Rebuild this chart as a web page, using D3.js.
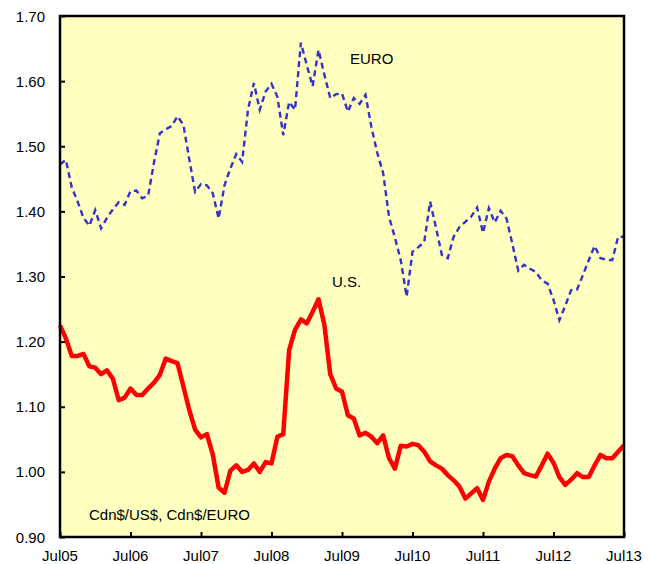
<!DOCTYPE html>
<html>
<head>
<meta charset="utf-8">
<script src="https://cdn.jsdelivr.net/npm/d3@7"></script>
<style>
  body { margin: 0; background: #fff; }
  svg { font-family: "Liberation Sans", Arial, sans-serif; }
</style>
</head>
<body>
<svg id="chart" width="648" height="564"></svg>
<script>
// monthly, Jul 2005 .. Jul 2013
var euroRate = [
  1.472, 1.479, 1.437, 1.415, 1.390, 1.378, 1.402, 1.374, 1.390, 1.403,
  1.414, 1.410, 1.431, 1.432, 1.420, 1.424, 1.475, 1.520, 1.526, 1.531,
  1.546, 1.533, 1.480, 1.430, 1.442, 1.440, 1.428, 1.389, 1.440, 1.466,
  1.488, 1.476, 1.556, 1.597, 1.556, 1.584, 1.596, 1.576, 1.517, 1.568,
  1.556, 1.659, 1.625, 1.592, 1.648, 1.610, 1.574, 1.580, 1.581, 1.553,
  1.574, 1.565, 1.579, 1.530, 1.490, 1.459, 1.392, 1.360, 1.325, 1.269,
  1.338, 1.345, 1.353, 1.415, 1.375, 1.333, 1.328, 1.361, 1.376, 1.384,
  1.392, 1.406, 1.367, 1.405, 1.383, 1.401, 1.389, 1.350, 1.309, 1.318,
  1.312, 1.307, 1.294, 1.289, 1.264, 1.233, 1.255, 1.279, 1.280, 1.302,
  1.325, 1.347, 1.328, 1.326, 1.325, 1.361, 1.361
];
var usRate = [
  1.225, 1.205, 1.178, 1.178, 1.181, 1.162, 1.160, 1.150, 1.156, 1.143,
  1.110, 1.114, 1.128, 1.118, 1.118, 1.128, 1.137, 1.149, 1.174, 1.170,
  1.167, 1.131, 1.095, 1.065, 1.053, 1.058, 1.027, 0.976, 0.968, 1.002,
  1.010, 1.000, 1.003, 1.013, 1.000, 1.015, 1.013, 1.054, 1.058, 1.187,
  1.218, 1.234, 1.228, 1.246, 1.265, 1.226, 1.150, 1.128, 1.123, 1.087,
  1.082, 1.056, 1.060, 1.054, 1.044, 1.056, 1.021, 1.005, 1.040, 1.039,
  1.043, 1.041, 1.031, 1.016, 1.010, 1.005, 0.995, 0.987, 0.977, 0.959,
  0.967, 0.975, 0.957, 0.985, 1.005, 1.021, 1.026, 1.024, 1.010, 0.998,
  0.995, 0.993, 1.010, 1.028, 1.014, 0.992, 0.980, 0.988, 0.998, 0.992,
  0.992, 1.010, 1.026, 1.021, 1.021, 1.031, 1.041
];
var xTickLabels = ["Jul05", "Jul06", "Jul07", "Jul08", "Jul09", "Jul10", "Jul11", "Jul12", "Jul13"];
var yTicks = [0.90, 1.00, 1.10, 1.20, 1.30, 1.40, 1.50, 1.60, 1.70];

var svg = d3.select("#chart");
var pLeft = 60, pRight = 624, pTop = 16, pBottom = 537;
var fs = 15;

var x = d3.scaleLinear().domain([0, euroRate.length - 1]).range([pLeft, pRight]);
var y = d3.scaleLinear().domain([0.9, 1.7]).range([pBottom, pTop]);

svg.append("rect")
  .attr("x", pLeft).attr("y", pTop)
  .attr("width", pRight - pLeft).attr("height", pBottom - pTop)
  .attr("fill", "#ffffc0");

// axes, ticks pointing inward
var yAxis = svg.append("g")
  .attr("transform", "translate(" + pLeft + ",0)")
  .call(d3.axisRight(y).tickValues(yTicks).tickSize(5).tickFormat(""));
var xAxis = svg.append("g")
  .attr("transform", "translate(0," + pBottom + ")")
  .call(d3.axisTop(x).tickValues(d3.range(0, 97, 12)).tickSize(5).tickFormat(""));
[xAxis, yAxis].forEach(function(a) {
  a.select(".domain").remove();
  a.selectAll(".tick line").attr("stroke", "#000").attr("stroke-width", 2);
});

yTicks.forEach(function(v) {
  svg.append("text")
    .attr("x", 45).attr("y", y(v) + 5.5)
    .attr("text-anchor", "end")
    .attr("font-size", fs)
    .attr("fill", "#000")
    .text(v.toFixed(2));
});
xTickLabels.forEach(function(lbl, i) {
  svg.append("text")
    .attr("x", x(i * 12)).attr("y", 561)
    .attr("text-anchor", "middle")
    .attr("font-size", fs)
    .attr("fill", "#000")
    .text(lbl);
});

var line = d3.line()
  .x(function(d, i) { return x(i); })
  .y(function(d) { return y(d); });

svg.append("path")
  .datum(euroRate)
  .attr("d", line)
  .attr("fill", "none")
  .attr("stroke", "#3333cc")
  .attr("stroke-width", 2.4)
  .attr("stroke-dasharray", "6,4");

svg.append("path")
  .datum(usRate)
  .attr("d", line)
  .attr("fill", "none")
  .attr("stroke", "#ff0000")
  .attr("stroke-width", 4.5)
  .attr("stroke-linejoin", "round");

svg.append("rect")
  .attr("x", pLeft).attr("y", pTop)
  .attr("width", pRight - pLeft).attr("height", pBottom - pTop)
  .attr("fill", "none")
  .attr("stroke", "#000")
  .attr("stroke-width", 2.5);

svg.append("text").attr("x", 350).attr("y", 64).attr("font-size", fs).attr("fill", "#000").text("EURO");
svg.append("text").attr("x", 332).attr("y", 287).attr("font-size", fs).attr("fill", "#000").text("U.S.");
svg.append("text").attr("x", 89).attr("y", 520).attr("font-size", fs).attr("fill", "#000").text("Cdn$/US$, Cdn$/EURO");
</script>
</body>
</html>
